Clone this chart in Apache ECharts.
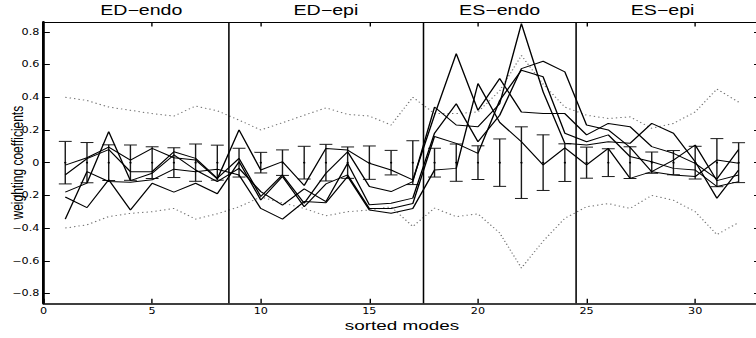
<!DOCTYPE html>
<html>
<head>
<meta charset="utf-8">
<script src="https://cdn.jsdelivr.net/npm/echarts@6/dist/echarts.min.js"></script>
<style>
  html, body { margin: 0; padding: 0; background: #fff; overflow: hidden; }
  #wrap { width: 756px; height: 338px; overflow: hidden; }
  #c { width: 540px; height: 338px; transform: scaleX(1.4); transform-origin: 0 0; }
</style>
</head>
<body>
<div id="wrap"><div id="c"></div></div>
<script>
// ---- data ----
const modes = [1,2,3,4,5,6,7,8,9,10,11,12,13,14,15,16,17,18,19,20,21,22,23,24,25,26,27,28,29,30,31,32];

const line1 = [-0.015, 0.03, 0.095, 0.015, 0.087, 0.03, 0.016, -0.10, 0.20, -0.045, 0.006, -0.14, 0.087, 0.077, -0.004, -0.045, -0.105, 0.29, 0.667, 0.32, 0.515, 0.31, 0.30, 0.30, 0.17, 0.24, 0.22, 0.098, 0.057, -0.004, -0.10, 0.081];
const line2 = [-0.075, 0.025, 0.08, -0.055, -0.055, 0.067, 0.026, -0.095, 0.026, -0.207, -0.075, -0.248, -0.065, 0.067, -0.146, -0.177, -0.116, 0.34, 0.23, 0.22, 0.36, 0.85, 0.433, 0.118, 0.108, 0.128, 0.118, 0.24, 0.18, 0.006, -0.218, -0.045];
const line3 = [-0.18, -0.125, 0.19, -0.11, -0.065, 0.047, -0.045, -0.116, -0.035, -0.177, -0.26, -0.16, -0.238, -0.004, -0.258, -0.248, -0.217, 0.18, 0.36, 0.128, 0.29, 0.575, 0.62, 0.555, 0.23, 0.20, 0.094, -0.055, 0.016, 0.108, -0.11, -0.075];
const line4 = [-0.21, -0.275, -0.105, -0.29, -0.126, -0.18, -0.126, -0.19, 0.006, -0.228, -0.085, -0.27, -0.13, -0.075, -0.28, -0.28, -0.25, 0.16, 0.118, 0.057, 0.38, 0.565, 0.525, 0.18, 0.128, 0.17, 0.037, 0.006, -0.035, -0.045, -0.146, -0.116];
const line5 = [-0.345, -0.055, -0.115, -0.12, -0.105, -0.04, -0.055, -0.04, -0.075, -0.28, -0.345, -0.238, -0.245, -0.085, -0.29, -0.31, -0.28, -0.045, -0.035, 0.484, 0.246, 0.128, -0.014, 0.09, -0.014, 0.087, -0.096, -0.055, -0.075, -0.085, 0.016, -0.004];

const upperBound = [0.40, 0.38, 0.34, 0.32, 0.30, 0.285, 0.346, 0.317, 0.26, 0.20, 0.244, 0.29, 0.335, 0.295, 0.285, 0.23, 0.40, 0.30, 0.30, 0.31, 0.44, 0.655, 0.48, 0.34, 0.29, 0.27, 0.28, 0.21, 0.24, 0.31, 0.45, 0.37];
const lowerBound = [-0.40, -0.38, -0.33, -0.31, -0.30, -0.28, -0.345, -0.313, -0.27, -0.21, -0.246, -0.28, -0.325, -0.30, -0.29, -0.27, -0.39, -0.278, -0.33, -0.313, -0.43, -0.644, -0.48, -0.34, -0.27, -0.25, -0.28, -0.20, -0.23, -0.30, -0.44, -0.366];

const errMid  = [0,0,0,0,0,0,0,0,0,0,0,0,0,0,0,0,0,0,0,0,0,0,0,0,0,0,0,0,0,0,0,0];
const errHalf = [0.13, 0.123, 0.109, 0.108, 0.097, 0.091, 0.114, 0.107, 0.088, 0.063, 0.078, 0.10, 0.112, 0.096, 0.102, 0.075, 0.134, 0.088, 0.114, 0.103, 0.145, 0.219, 0.17, 0.115, 0.095, 0.085, 0.097, 0.065, 0.074, 0.10, 0.147, 0.122];

const sectionBounds = [8.5, 17.5, 24.5];
const sectionCenters = [4.5, 13, 21, 28.5];
const sectionNames = ['ED\u2212endo', 'ED\u2212epi', 'ES\u2212endo', 'ES\u2212epi'];

const xTicks = [0, 5, 10, 15, 20, 25, 30];
const yTicks = [-0.8, -0.6, -0.4, -0.2, 0, 0.2, 0.4, 0.6, 0.8];
const xRange = [0, 33];
const yRange = [-0.86, 0.86];

// ---- chart ----
const chart = echarts.init(document.getElementById('c'), null, { renderer: 'svg' });

const pair = arr => modes.map((m, i) => [m, arr[i]]);
const fmtY = v => v === 0 ? '0' : (v < 0 ? '\u2212' : '') + Math.abs(v).toFixed(1);

const lineSeries = [line1, line2, line3, line4, line5].map((arr, k) => ({
  type: 'line',
  xAxisIndex: 0, yAxisIndex: 0,
  data: pair(arr),
  symbol: 'none',
  lineStyle: { color: '#000', width: 1 },
  z: 5,
  markLine: k === 0 ? {
    silent: true, symbol: ['none', 'none'],
    label: { show: false },
    lineStyle: { color: '#000', width: 1.1, type: 'solid' },
    data: sectionBounds.map(v => ({ xAxis: v }))
  } : undefined
}));

const boundSeries = [upperBound, lowerBound].map(arr => ({
  type: 'line',
  data: pair(arr),
  symbol: 'none',
  lineStyle: { color: '#707070', width: 1, type: [1, 2.2] },
  z: 3
}));

const errSeries = {
  type: 'custom',
  data: modes.map((m, i) => [m, errMid[i], errHalf[i]]),
  z: 4,
  renderItem: function (params, api) {
    const x = api.value(0), mid = api.value(1), h = api.value(2);
    const top = api.coord([x, mid + h]);
    const bot = api.coord([x, mid - h]);
    const ctr = api.coord([x, mid]);
    const cw = 4.6;
    const st = { stroke: '#1a1a1a', lineWidth: 1 };
    return {
      type: 'group',
      children: [
        { type: 'line', shape: { x1: top[0], y1: top[1], x2: bot[0], y2: bot[1] }, style: st },
        { type: 'line', shape: { x1: top[0] - cw, y1: top[1], x2: top[0] + cw, y2: top[1] }, style: st },
        { type: 'line', shape: { x1: bot[0] - cw, y1: bot[1], x2: bot[0] + cw, y2: bot[1] }, style: st },
        { type: 'circle', shape: { cx: ctr[0], cy: ctr[1], r: 0.8 }, style: { fill: '#000' } }
      ]
    };
  }
};

const option = {
  animation: false,
  backgroundColor: '#fff',
  grid: { left: 31.1, top: 22, width: 512, height: 281.3, containLabel: false, outerBoundsMode: 'none' },
  xAxis: [
    {
      type: 'value', position: 'bottom', min: xRange[0], max: xRange[1],
      name: 'sorted modes', nameLocation: 'middle', nameGap: 15, nameMoveOverlap: false,
      nameTextStyle: { fontFamily: 'Liberation Sans', fontSize: 13.5, color: '#000' },
      axisLine: { show: true, onZero: false, lineStyle: { color: '#000', width: 1.6 } },
      axisTick: { show: true, inside: true, length: 4.5, customValues: xTicks, lineStyle: { color: '#000', width: 1 } },
      axisLabel: { customValues: xTicks, margin: 4, fontFamily: 'DejaVu Sans', fontSize: 8, color: '#000' },
      splitLine: { show: false }
    },
    {
      type: 'value', position: 'top', min: xRange[0], max: xRange[1],
      axisLine: { show: true, onZero: false, lineStyle: { color: '#000', width: 1 } },
      axisTick: { show: true, inside: true, length: 4.5, customValues: xTicks.slice(1), lineStyle: { color: '#000', width: 1 } },
      axisLabel: {
        customValues: sectionCenters, margin: 5,
        fontFamily: 'Liberation Sans', fontSize: 14, color: '#000',
        formatter: v => sectionNames[sectionCenters.indexOf(v)]
      },
      splitLine: { show: false }
    }
  ],
  yAxis: [
    {
      type: 'value', position: 'left', min: yRange[0], max: yRange[1],
      name: 'weighting coefficients', nameLocation: 'middle', nameGap: 13, nameMoveOverlap: false,
      nameTextStyle: { fontFamily: 'Liberation Sans', fontSize: 12, color: '#000' },
      axisLine: { show: true, onZero: false, lineStyle: { color: '#000', width: 2 } },
      axisTick: { show: true, inside: true, length: 4.5, customValues: yTicks, lineStyle: { color: '#000', width: 1 } },
      axisLabel: { customValues: yTicks, margin: 3, fontFamily: 'DejaVu Sans', fontSize: 8, color: '#000', formatter: fmtY },
      splitLine: { show: false }
    },
    {
      type: 'value', position: 'right', min: yRange[0], max: yRange[1],
      axisLine: { show: true, onZero: false, lineStyle: { color: '#000', width: 1 } },
      axisTick: { show: true, inside: true, length: 4.5, customValues: yTicks, lineStyle: { color: '#000', width: 1 } },
      axisLabel: { show: false },
      splitLine: { show: false }
    }
  ],
  series: [...boundSeries, errSeries, ...lineSeries]
};

chart.setOption(option);
</script>
</body>
</html>
